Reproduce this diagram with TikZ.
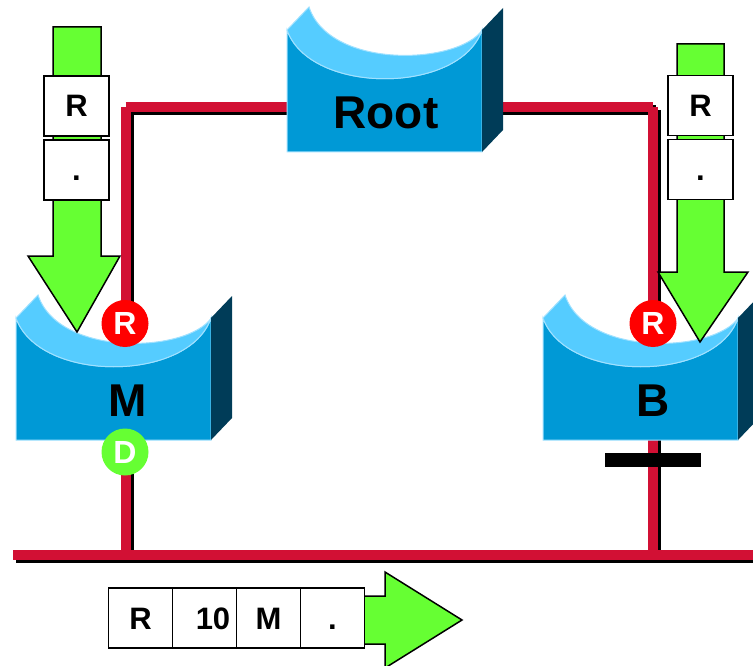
\documentclass[tikz,border=0pt]{standalone}
\usepackage{fontspec}
\setmainfont{Liberation Sans}
\usetikzlibrary{positioning}
\definecolor{linkred}{RGB}{210,16,52}
\definecolor{framegreen}{RGB}{102,255,51}
\definecolor{portred}{RGB}{255,0,0}
\definecolor{swfront}{RGB}{0,153,214}
\definecolor{swtop}{RGB}{85,204,255}
\definecolor{swside}{RGB}{0,60,88}
\definecolor{swedge}{RGB}{160,225,255}

\begin{document}
\begin{tikzpicture}[
		x=1pt, y=-1pt,
		wire/.style={line width=10pt, draw=linkred},
		wireshadow/.style={line width=10pt, draw=black, transform canvas={xshift=3pt, yshift=-3pt}},
		swlabel/.style={inner sep=0pt, font=\bfseries\fontsize{46}{46}\selectfont},
		port/.style={
				circle,
				minimum size=47pt,
				inner sep=0pt,
				text=white,
				font=\bfseries\fontsize{32}{32}\selectfont
			},
		block/.style={fill=black, minimum width=96pt, minimum height=14pt, inner sep=0pt},
		framearrow/.style={fill=framegreen, draw=black, line width=1.5pt, line join=miter},
		pdu/.style={
				draw,
				fill=white,
				line width=1.5pt,
				minimum width=65pt,
				minimum height=60pt,
				inner sep=0pt,
				outer sep=0pt,
				text height=22pt, % same baseline for every box
				text depth=0pt,
				font=\bfseries\fontsize{31}{31}\selectfont
			},
		switch/.pic={
				% front face, dish cut out of the top
				\filldraw[draw=swedge, fill=swfront, line width=1pt]
				(0,0) .. controls (23,65) and (173,65) .. (195,0) -- (195,122) -- (0,122) -- cycle;
				% inside of the dish
				\filldraw[draw=swedge, fill=swtop, line width=1pt]
				(0,0) -- (22,-23) .. controls (43,40) and (173,35) .. (196,-1) -- (195,0)
				.. controls (173,65) and (23,65) .. (0,0) -- cycle;
				% side
				\fill[swside] (195,0) -- (216,-22) -- (216,100) -- (195,122) -- cycle;
			}
	]
	\useasboundingbox (0,0) rectangle (753,666);

	\coordinate (mUp) at (125.5,107);
	\coordinate (bUp) at (653,107);
	\coordinate (mDown) at (125.5,555);
	\coordinate (bDown) at (653,555);
	\coordinate (lanW) at (13,555);
	\coordinate (lanE) at (760,555);

	\foreach \look in {wireshadow, wire} {
			\draw[\look] (mUp) -- (mDown);
			\draw[\look] (bUp) -- (bDown);
			\draw[\look] (mUp) -- (bUp);
			\draw[\look] (lanW) -- (lanE);
		}

	\pic (swRoot) at (287,30) {switch};
	\pic (swM) at (16,318) {switch};
	\pic (swB) at (543,318) {switch};

	\node[swlabel] (root) at (386,113) {Root};
	\node[swlabel] (m) at (128,401) {M};
	\node[swlabel] (b) at (653,401) {B};

	\node[port, fill=portred] (mR) at (125,323.5) {R};
	\node[port, fill=framegreen] (mD) at (125,452) {D};
	\node[port, fill=portred] (bR) at (653,323.5) {R};

	\node[block] (bBlock) at (653,460) {};

	% frames travelling
	\filldraw[framearrow] (53,27) -- (101,27) -- (101,256) -- (120,256) -- (77,332) -- (28,256) -- (53,256) -- cycle;
	\filldraw[framearrow] (677,44) -- (724,44) -- (724,272) -- (748,272) -- (700,342) -- (658,272) -- (677,272) -- cycle;
	\filldraw[framearrow] (350,596) -- (385,596) -- (385,572) -- (462,620) -- (385,668) -- (385,644) -- (350,644) -- cycle;

	\node[pdu] (mRoot) at (76.5,106) {R};
	\node[pdu, below=4pt of mRoot] (mDot) {.};

	\node[pdu] (bRoot) at (700.5,105.5) {R};
	\node[pdu, below=4pt of bRoot] (bDot) {.};

	\node[pdu, minimum width=64pt] (f1) at (140.5,618) {R};
	\node[pdu, minimum width=64pt, right=0pt of f1] (f2) {\hspace*{17pt}10};
	\node[pdu, minimum width=64pt, right=0pt of f2] (f3) {M};
	\node[pdu, minimum width=64pt, right=0pt of f3] (f4) {.};
\end{tikzpicture}
\end{document}
